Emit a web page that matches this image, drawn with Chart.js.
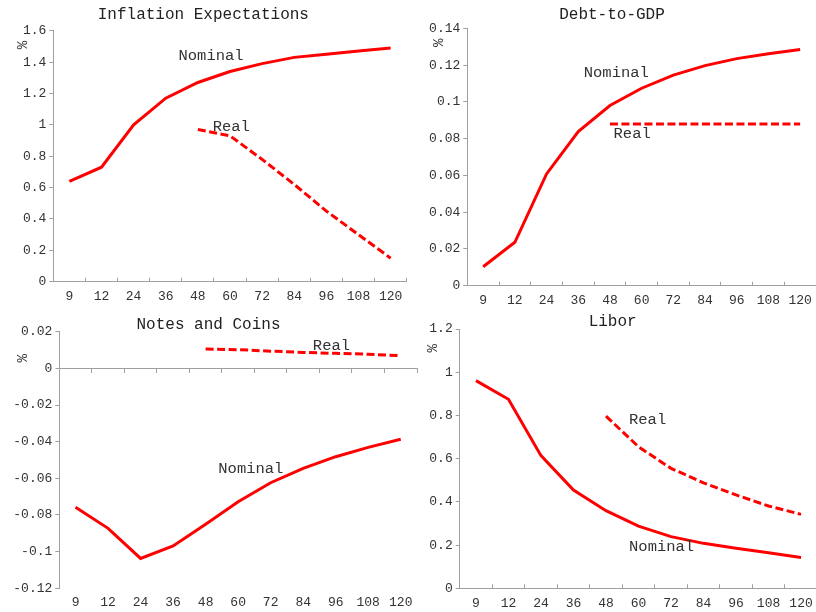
<!DOCTYPE html>
<html>
<head>
<meta charset="utf-8">
<script src="https://cdn.jsdelivr.net/npm/chart.js@4/dist/chart.umd.min.js"></script>
<style>
  html, body { margin: 0; padding: 0; background: #ffffff; overflow: hidden; width: 816px; height: 612px; }
  canvas { position: absolute; background: transparent; }
</style>
</head>
<body>
<canvas id="c1"></canvas>
<canvas id="c2"></canvas>
<canvas id="c3"></canvas>
<canvas id="c4"></canvas>
<script>
// ---- data ----
const months = ['9', '12', '24', '36', '48', '60', '72', '84', '96', '108', '120'];

const inflationNominal = [0.64, 0.73, 1.00, 1.17, 1.27, 1.34, 1.39, 1.43, 1.45, 1.47, 1.49];
const inflationReal    = [null, null, null, null, 0.97, 0.93, 0.78, 0.62, 0.45, 0.30, 0.15];

const debtNominal = [0.0103, 0.0236, 0.0608, 0.0838, 0.0980, 0.1074, 0.1145, 0.1197, 0.1235, 0.1262, 0.1285];
const debtReal    = [null, null, null, null, 0.088, 0.088, 0.088, 0.088, 0.088, 0.088, 0.088];

const notesNominal = [-0.0758, -0.0873, -0.1037, -0.0969, -0.0851, -0.0728, -0.0624, -0.0546, -0.0482, -0.0431, -0.0387];
const notesReal    = [null, null, null, null, 0.0105, 0.0102, 0.0094, 0.0087, 0.0082, 0.0077, 0.0069];

const liborNominal = [0.961, 0.875, 0.614, 0.455, 0.359, 0.288, 0.239, 0.208, 0.185, 0.165, 0.143];
const liborReal    = [null, null, null, null, 0.797, 0.655, 0.555, 0.488, 0.432, 0.381, 0.342];

const titles = ['Inflation Expectations', 'Debt-to-GDP', 'Notes and Coins', 'Libor'];
const seriesNames = ['Nominal', 'Real'];

// ---- style ----
const FONT = '"Liberation Mono", "Courier New", monospace';
const RED = '#ff0000';
const AXIS = '#a0a0a0';
const TEXT = '#333333';

const annotPlugin = {
  id: 'annot',
  afterDatasetsDraw(chart, args, opts) {
    const { ctx, chartArea, scales } = chart;
    ctx.save();
    ctx.fillStyle = TEXT;
    ctx.textAlign = 'center';
    ctx.textBaseline = 'middle';
    ctx.font = '15.5px ' + FONT;
    (opts.labels || []).forEach(a => {
      ctx.fillText(a.text, scales.x.getPixelForValue(a.x), scales.y.getPixelForValue(a.y));
    });
    if (opts.pct) {
      ctx.translate(chartArea.left + opts.pct.dx, chartArea.top + opts.pct.dy);
      ctx.rotate(-Math.PI / 2);
      ctx.font = '14px ' + FONT;
      ctx.fillText('%', 0, 0);
    }
    ctx.restore();
  }
};

function fmt(v) { return String(+Number(v).toFixed(4)); }

function makeChart(id, spec) {
  const cv = document.getElementById(id);
  cv.width = spec.w; cv.height = spec.h;
  cv.style.left = spec.left + 'px'; cv.style.top = spec.top + 'px';
  cv.style.width = spec.w + 'px'; cv.style.height = spec.h + 'px';

  const xMain = {
    type: 'category',
    offset: true,
    grid: { display: true, drawOnChartArea: false, offset: true, color: AXIS, tickLength: -4, drawTicks: true },
    border: { display: true, color: AXIS, width: 1 },
    ticks: { color: TEXT, font: { family: FONT, size: 13 }, padding: 11.5, maxRotation: 0, autoSkip: false },
    afterFit: s => { s.height = spec.xH; }
  };
  const scales = {
    x: xMain,
    y: {
      type: 'linear',
      min: spec.yMin, max: spec.yMax,
      grid: { display: true, drawOnChartArea: false, color: AXIS, tickLength: 4 },
      border: { display: true, color: AXIS, width: 1 },
      ticks: { stepSize: spec.yStep, color: TEXT, font: { family: FONT, size: 13 }, padding: 3, callback: fmt },
      afterFit: s => { s.width = spec.yW; }
    }
  };
  if (spec.zeroAxis) {
    xMain.border.display = false;
    xMain.grid.display = false;
    xMain.grid.drawTicks = false;
    xMain.ticks.padding = 6.9;
    scales.x0 = {
      type: 'category',
      position: { y: 0 },
      offset: true,
      grid: { display: true, drawOnChartArea: false, offset: true, color: AXIS, tickLength: 4 },
      border: { display: true, color: AXIS, width: 1 },
      ticks: { display: false }
    };
  }

  return new Chart(cv, {
    type: 'line',
    data: {
      labels: months,
      datasets: [
        { label: seriesNames[0], data: spec.nominal, borderColor: RED, backgroundColor: RED, borderWidth: 3, pointRadius: 0, tension: 0, fill: false, spanGaps: false },
        { label: seriesNames[1], data: spec.real, borderColor: RED, backgroundColor: RED, borderWidth: 3, borderDash: [8, 3.5], pointRadius: 0, tension: 0, fill: false, spanGaps: false }
      ]
    },
    options: {
      responsive: false,
      animation: false,
      devicePixelRatio: 1,
      layout: { padding: { left: 0, top: 0, right: spec.padR, bottom: 0 } },
      plugins: {
        legend: { display: false },
        tooltip: { enabled: false },
        title: {
          display: true, text: spec.title, color: '#222222',
          font: { family: FONT, size: 16, weight: 'normal', lineHeight: 0.8 },
          padding: spec.titlePad
        },
        annot: { labels: spec.labels, pct: spec.pct }
      },
      scales
    },
    plugins: [annotPlugin]
  });
}

makeChart('c1', {
  left: 0, top: 0, w: 418, h: 306, yW: 53.3, xH: 24.3, padR: 11.3,
  titlePad: { top: 8.6, bottom: 9.3 }, title: titles[0],
  yMin: 0, yMax: 1.6, yStep: 0.2,
  nominal: inflationNominal, real: inflationReal,
  labels: [{ text: seriesNames[0], x: 4.41, y: 1.44 }, { text: seriesNames[1], x: 5.04, y: 0.99 }],
  pct: { dx: -30.3, dy: 14.3 }
});

makeChart('c2', {
  left: 408, top: 0, w: 440, h: 306, yW: 59.3, xH: 20.3, padR: 32,
  titlePad: { top: 8.6, bottom: 6.9 }, title: titles[1],
  yMin: 0, yMax: 0.14, yStep: 0.02,
  nominal: debtNominal, real: debtReal,
  labels: [{ text: seriesNames[0], x: 4.2, y: 0.1159 }, { text: seriesNames[1], x: 4.7, y: 0.0823 }],
  pct: { dx: -27.6, dy: 14.4 }
});

makeChart('c3', {
  left: 0, top: 306, w: 458, h: 306, yW: 59.3, xH: 23.7, padR: 41,
  titlePad: { top: 12.6, bottom: 0.3 }, title: titles[2],
  yMin: -0.12, yMax: 0.02, yStep: 0.02, zeroAxis: true,
  nominal: notesNominal, real: notesReal,
  labels: [{ text: seriesNames[1], x: 7.87, y: 0.0122 }, { text: seriesNames[0], x: 5.39, y: -0.0548 }],
  pct: { dx: -36, dy: 26.6 }
});

makeChart('c4', {
  left: 408, top: 306, w: 469, h: 306, yW: 51.7, xH: 23.7, padR: 59.7,
  titlePad: { top: 9.3, bottom: 0.9 }, title: titles[3],
  yMin: 0, yMax: 1.2, yStep: 0.2,
  nominal: liborNominal, real: liborReal,
  labels: [{ text: seriesNames[1], x: 5.28, y: 0.779 }, { text: seriesNames[0], x: 5.71, y: 0.19 }],
  pct: { dx: -26.7, dy: 19.3 }
});
</script>
</body>
</html>
